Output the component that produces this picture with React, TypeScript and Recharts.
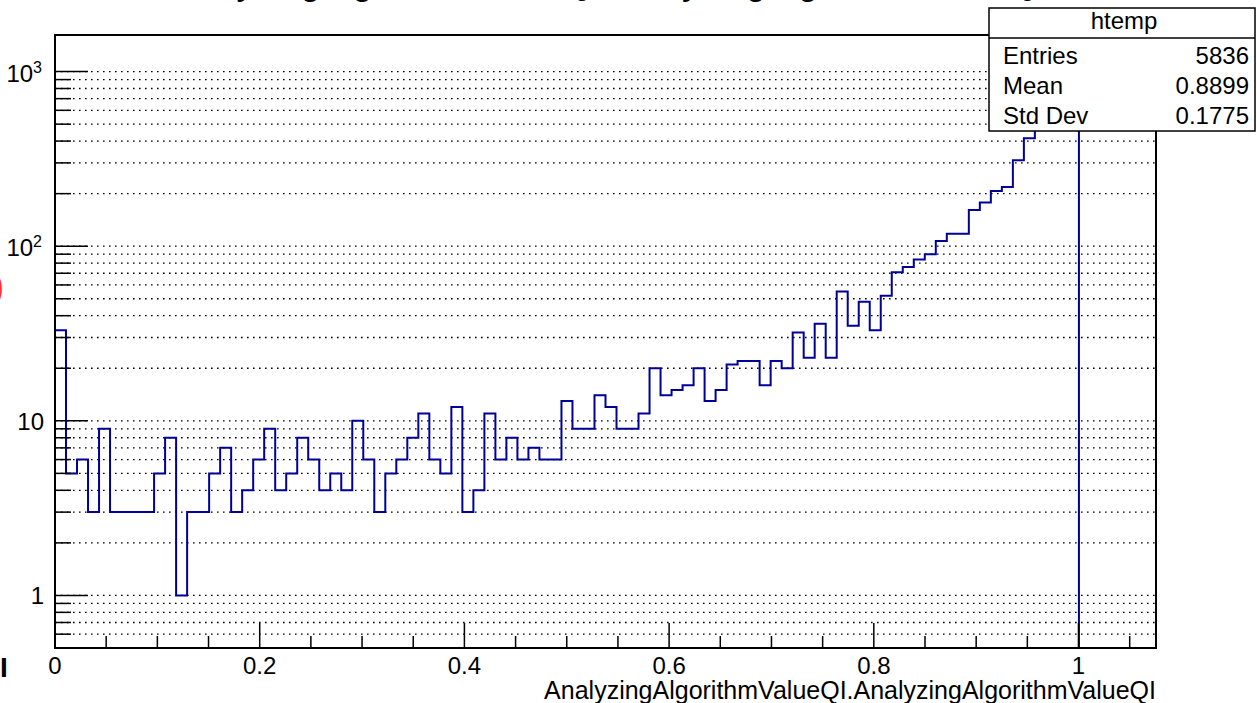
import React from 'react';
import { ComposedChart, Line, XAxis, YAxis, CartesianGrid, ReferenceArea } from 'recharts';

// histogram bin contents, 100 bins over [0, X_MAX]; bins 93..99 are empty
const BIN_COUNTS = [
  33, 5, 6, 3, 9, 3, 3, 3, 3, 5,
  8, 1, 3, 3, 5, 7, 3, 4, 6, 9,
  4, 5, 8, 6, 4, 5, 4, 10, 6, 3,
  5, 6, 8, 11, 6, 5, 12, 3, 4, 11,
  6, 8, 6, 7, 6, 6, 13, 9, 9, 14,
  12, 9, 9, 11, 20, 14, 15, 16, 20, 13,
  15, 21, 22, 22, 16, 22, 20, 32, 23, 36,
  23, 55, 35, 48, 33, 52, 71, 76, 84, 90,
  107, 118, 118, 161, 178, 207, 218, 311, 415, 540,
  640, 746, 810,
];
const N_BINS = 100;
const X_MAX = 1.0757;
const Y_MIN = 0.5;
const Y_MAX = 1620;

const X_TICKS = [0, 0.05, 0.1, 0.15, 0.2, 0.25, 0.3, 0.35, 0.4, 0.45, 0.5, 0.55, 0.6, 0.65, 0.7, 0.75, 0.8, 0.85, 0.9, 0.95, 1, 1.05];
const X_LABELS = [0, 0.2, 0.4, 0.6, 0.8, 1];
const Y_TICKS = [
  0.6, 0.7, 0.8, 0.9,
  1, 2, 3, 4, 5, 6, 7, 8, 9,
  10, 20, 30, 40, 50, 60, 70, 80, 90,
  100, 200, 300, 400, 500, 600, 700, 800, 900,
  1000,
];
const Y_LABELS = [1, 10, 100, 1000];

const TITLE = 'AnalyzingAlgorithmValueQI.AnalyzingAlgorithmValueQI';
const X_TITLE = 'AnalyzingAlgorithmValueQI.AnalyzingAlgorithmValueQI';
const STATS_NAME = 'htemp';
const STATS_LABELS = ['Entries', 'Mean', 'Std Dev'];
const STATS_VALUES = ['5836', '0.8899', '0.1775'];

const FONT = '"Liberation Sans", Arial, Helvetica, sans-serif';
const LINE_COLOR = '#000099';

const binW = X_MAX / N_BINS;
const histData = [
  { x: 0, y: Y_MIN },
  ...BIN_COUNTS.map((c, i) => ({ x: i * binW, y: c })),
  { x: BIN_COUNTS.length * binW, y: Y_MIN },
];

const isLabeledX = (v: number) => X_LABELS.some((l) => Math.abs(l - v) < 1e-9);

function XTick(props: any) {
  const { x, y, payload } = props;
  const v = payload.value;
  const major = isLabeledX(v);
  return (
    <g>
      <line x1={x} x2={x} y1={y} y2={y - (major ? 25 : 12)} stroke="#000" strokeWidth={1.5} />
      {major && (
        <text x={x} y={y + 26} textAnchor="middle" fontSize={24} fontFamily={FONT} fill="#000">
          {String(v)}
        </text>
      )}
    </g>
  );
}

function YTick(props: any) {
  const { x, y, payload } = props;
  const v = payload.value;
  const major = Y_LABELS.includes(v);
  let label: React.ReactNode = null;
  if (major) {
    const exp = Math.round(Math.log10(v));
    label = exp >= 2 ? (
      <text x={x - 13} y={y + 10} textAnchor="end" fontSize={24} fontFamily={FONT} fill="#000">
        10<tspan fontSize={16} dy={-9}>{exp}</tspan>
      </text>
    ) : (
      <text x={x - 11} y={y + 9} textAnchor="end" fontSize={24} fontFamily={FONT} fill="#000">
        {String(v)}
      </text>
    );
  }
  return (
    <g>
      <line x1={x} x2={x + (major ? 33 : 16)} y1={y} y2={y} stroke="#000" strokeWidth={1.5} />
      {label}
    </g>
  );
}

export default function App() {
  return (
    <div style={{ position: 'absolute', left: 0, top: 0, width: 1257, height: 703, background: '#fff' }}>
      <ComposedChart width={1257} height={703} data={histData} margin={{ top: 35, right: 101, bottom: 0, left: 0 }}>
        <CartesianGrid horizontal vertical={false} stroke="#000" strokeWidth={1.3} strokeDasharray="1.6 4.4" />
        <XAxis
          dataKey="x"
          type="number"
          domain={[0, X_MAX]}
          ticks={X_TICKS}
          interval={0}
          height={55}
          tickSize={0}
          tickMargin={0}
          tickLine={false}
          axisLine={{ stroke: '#000', strokeWidth: 2 }}
          tick={XTick}
          allowDataOverflow
          label={{
            content: ({ viewBox }: any) => (
              <text x={viewBox.x + viewBox.width} y={viewBox.y + 51} textAnchor="end" fontSize={25} fontFamily={FONT} fill="#000">
                {X_TITLE}
              </text>
            ),
          }}
        />
        <YAxis
          type="number"
          scale="log"
          domain={[Y_MIN, Y_MAX]}
          ticks={Y_TICKS}
          interval={0}
          width={55}
          tickSize={0}
          tickMargin={0}
          tickLine={false}
          axisLine={{ stroke: '#000', strokeWidth: 2 }}
          tick={YTick}
          allowDataOverflow
        />
        <Line
          dataKey="y"
          type="stepAfter"
          stroke={LINE_COLOR}
          strokeWidth={2}
          dot={false}
          activeDot={false}
          isAnimationActive={false}
        />
        <ReferenceArea x1={0} x2={X_MAX} y1={Y_MIN} y2={Y_MAX} fill="none" stroke="#000" strokeWidth={2} ifOverflow="visible" />
      </ComposedChart>
      <svg width={1257} height={703} style={{ position: 'absolute', left: 0, top: 0, pointerEvents: 'none' }} fontFamily={FONT}>
        <text x={605} y={-6.5} textAnchor="middle" fontSize={36} fill="#000">{TITLE}</text>
        <text x={-9} y={300} fontSize={40} fontWeight={300} fill="#ff3030">)</text>
        <text x={0} y={677} fontSize={28} fontWeight="bold" fill="#000">I</text>
        <rect x={989} y={8} width={266} height={123} fill="#fff" stroke="#000" strokeWidth={1.5} />
        <line x1={989} x2={1255} y1={38} y2={38} stroke="#000" strokeWidth={1.5} />
        <text x={1124} y={29} textAnchor="middle" fontSize={24} fill="#000">{STATS_NAME}</text>
        {STATS_LABELS.map((l, i) => (
          <g key={l}>
            <text x={1003} y={64 + i * 30} fontSize={24} fill="#000">{l}</text>
            <text x={1249} y={64 + i * 30} textAnchor="end" fontSize={24} fill="#000">{STATS_VALUES[i]}</text>
          </g>
        ))}
      </svg>
    </div>
  );
}
